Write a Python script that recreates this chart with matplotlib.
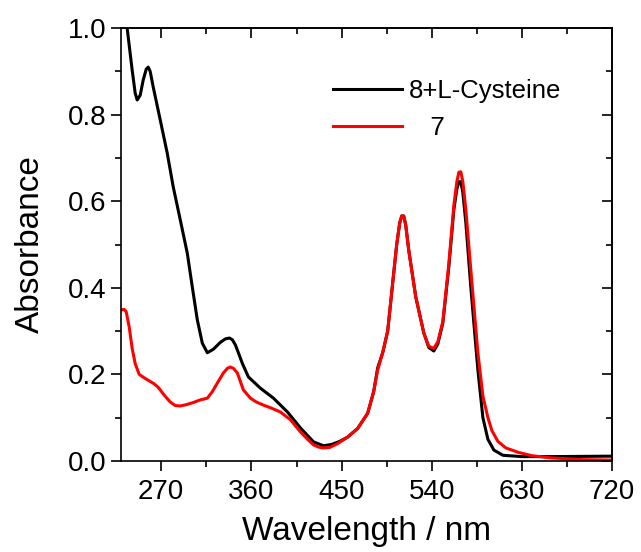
import numpy as np
import matplotlib
matplotlib.use("Agg")
import matplotlib.pyplot as plt
from matplotlib.ticker import MultipleLocator, FormatStrFormatter

plt.rcParams['font.family'] = ['Liberation Sans', 'DejaVu Sans']

# --- data ---
wl_black = [230, 233, 236, 241, 244, 246, 249, 252, 255, 257, 259, 262, 269, 276, 282, 289,
            296, 301, 306, 311, 316, 322, 329, 334, 338, 341, 344, 347, 351, 357, 369, 382,
            396, 409, 422, 432, 440, 448, 456, 466, 476, 482, 486, 491, 496, 502, 505, 508,
            510, 512, 514, 517, 524, 532, 537, 542, 546, 551, 557, 562, 565, 567, 569, 571,
            574, 579, 586, 591, 596, 602, 611, 630, 660, 720]
abs_black = [1.15, 1.06, 1.00, 0.903, 0.85, 0.834, 0.845, 0.88, 0.905, 0.91, 0.90, 0.864,
             0.788, 0.711, 0.633, 0.557, 0.48, 0.402, 0.326, 0.272, 0.25, 0.258, 0.274, 0.282,
             0.284, 0.28, 0.268, 0.25, 0.225, 0.194, 0.168, 0.145, 0.113, 0.076, 0.044, 0.035,
             0.038, 0.045, 0.055, 0.075, 0.11, 0.16, 0.215, 0.25, 0.30, 0.434, 0.50, 0.55,
             0.566, 0.566, 0.545, 0.487, 0.379, 0.296, 0.262, 0.254, 0.27, 0.318, 0.448, 0.58,
             0.628, 0.645, 0.645, 0.62, 0.55, 0.40, 0.21, 0.10, 0.05, 0.025, 0.013, 0.01, 0.01,
             0.011]

wl_red = [230, 233, 235, 238, 241, 244, 248, 253, 258, 263, 267, 273, 279, 284, 289, 295, 302,
          309, 316, 321, 326, 332, 336, 339, 342, 346, 352, 359, 365, 372, 380, 389, 399, 409,
          416, 422, 427, 431, 438, 446, 456, 466, 476, 482, 486, 491, 496, 502, 505, 508, 510,
          512, 514, 517, 524, 532, 537, 542, 546, 551, 557, 562, 565, 567, 569, 571, 574, 579,
          586, 591, 596, 600, 606, 614, 626, 640, 659, 690, 720]
abs_red = [0.349, 0.35, 0.345, 0.31, 0.26, 0.225, 0.20, 0.192, 0.185, 0.178, 0.17, 0.152,
           0.136, 0.128, 0.127, 0.13, 0.135, 0.141, 0.145, 0.16, 0.18, 0.203, 0.214, 0.217,
           0.214, 0.203, 0.164, 0.145, 0.136, 0.129, 0.122, 0.113, 0.095, 0.067, 0.05, 0.037,
           0.032, 0.03, 0.031, 0.04, 0.055, 0.075, 0.11, 0.16, 0.21, 0.25, 0.30, 0.434, 0.50,
           0.55, 0.566, 0.566, 0.545, 0.487, 0.379, 0.296, 0.265, 0.26, 0.275, 0.322, 0.455,
           0.59, 0.645, 0.667, 0.668, 0.645, 0.58, 0.44, 0.25, 0.15, 0.10, 0.07, 0.045, 0.03,
           0.02, 0.012, 0.007, 0.003, 0.002]

labels = ['8+L-Cysteine', '   7']
xticks = [270, 360, 450, 540, 630, 720]

fig = plt.figure(figsize=(6.41, 5.52), dpi=100)
ax = fig.add_axes([0.189, 0.165, 0.766, 0.784])

ax.plot(wl_black, abs_black, color='black', lw=2.2, label=labels[0])
ax.plot(wl_red, abs_red, color='red', lw=2.2, label=labels[1])

ax.set_xlim(230, 720)
ax.set_ylim(0, 1.0)
ax.set_xticks(xticks)
ax.xaxis.set_minor_locator(MultipleLocator(45))
ax.yaxis.set_major_locator(MultipleLocator(0.2))
ax.yaxis.set_minor_locator(MultipleLocator(0.1))
ax.yaxis.set_major_formatter(FormatStrFormatter('%.1f'))

ax.tick_params(which='major', direction='out', length=7, width=1.2, labelsize=20)
ax.tick_params(axis='x', which='major', pad=6)
ax.tick_params(which='minor', direction='out', length=4, width=1.2)
for s in ax.spines.values():
    s.set_linewidth(1.2)

# inward ticks on top and right
top = ax.secondary_xaxis('top')
top.set_xticks(xticks)
top.xaxis.set_minor_locator(MultipleLocator(45))
top.tick_params(which='major', direction='in', length=7, width=1.2, labeltop=False)
top.tick_params(which='minor', direction='in', length=4, width=1.2)
top.spines['top'].set_linewidth(1.2)

right = ax.secondary_yaxis('right')
right.yaxis.set_major_locator(MultipleLocator(0.2))
right.yaxis.set_minor_locator(MultipleLocator(0.1))
right.tick_params(which='major', direction='in', length=7, width=1.2, labelright=False)
right.tick_params(which='minor', direction='in', length=4, width=1.2)
right.spines['right'].set_linewidth(1.2)

ax.set_xlabel('Wavelength / nm', fontsize=24, labelpad=8)
ax.set_ylabel('Absorbance', fontsize=24, labelpad=16)

ax.legend(loc='upper left', bbox_to_anchor=(333 / 641, 1 - 79 / 552),
          bbox_transform=fig.transFigure, frameon=False, fontsize=18.5,
          handlelength=2.7, handletextpad=0.25, labelspacing=0.5,
          borderpad=0, borderaxespad=0)

fig.savefig('out.png', dpi=100)
